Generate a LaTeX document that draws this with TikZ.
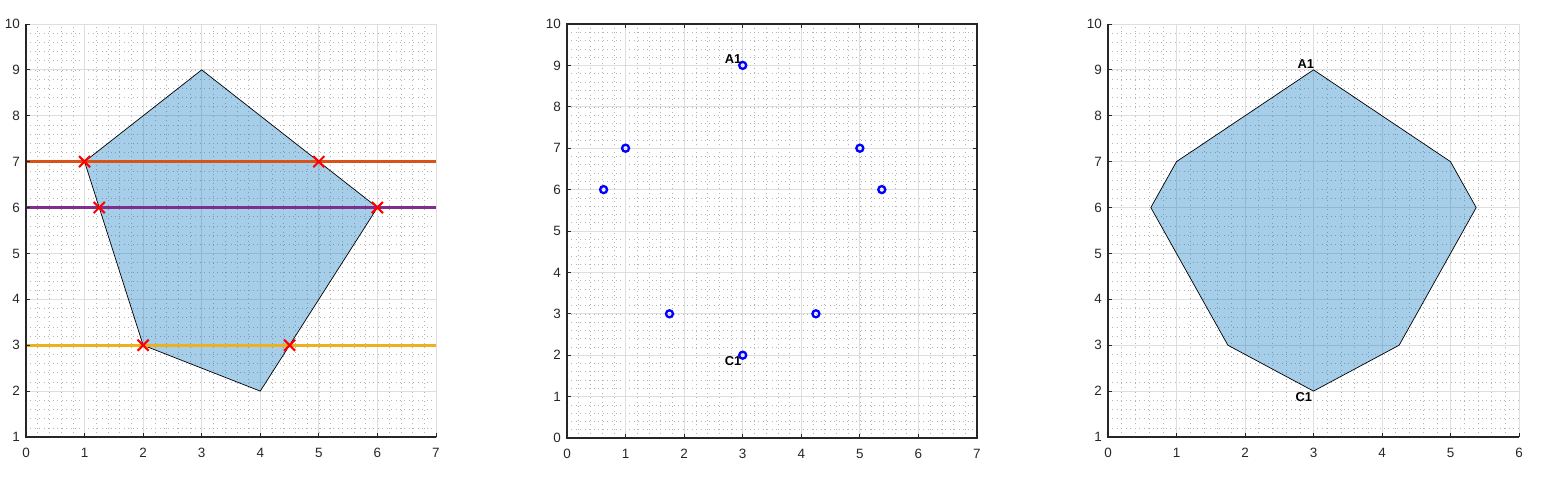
\documentclass[tikz,border=0pt]{standalone}
\usepackage{fontspec}
\setmainfont{Liberation Sans}
\usepackage{xcolor}
\usetikzlibrary{shapes.misc}

\definecolor{axisgray}{RGB}{38,38,38}
\definecolor{gridgray}{RGB}{222,222,222}
\definecolor{minorgray}{RGB}{180,180,180}
\definecolor{patchblue}{RGB}{0,114,189}
\definecolor{lineorange}{RGB}{217,83,25}
\definecolor{linepurple}{RGB}{126,47,142}
\definecolor{lineyellow}{RGB}{237,177,32}

\begin{document}
\begin{tikzpicture}[
    font=\fontsize{11.5}{13}\selectfont,
    majorgrid/.style={draw=gridgray, line width=0.7pt},
    minorgrid/.style={draw=minorgray, line width=0.5pt, dash pattern=on 0.5pt off 3.3pt},
    axisline/.style={draw=axisgray, line width=1pt},
    tickmark/.style={draw=axisgray, line width=0.7pt},
    xlab/.style={text=axisgray, inner sep=0pt, anchor=north},
    ylab/.style={text=axisgray, inner sep=0pt, anchor=east},
    patch/.style={fill=patchblue, fill opacity=0.35, draw=black, line width=0.6pt},
    hline/.style={line width=2.2pt},
    xmark/.style={cross out, draw=red, line width=1.8pt, minimum size=0.27cm, inner sep=0pt},
    ring/.style={circle, draw=blue, line width=2pt, minimum size=0.21cm, inner sep=0pt},
    tag/.style={font=\fontsize{11}{13}\selectfont\bfseries, inner sep=1pt}
  ]
  \useasboundingbox (0,0) rectangle (46.26,14.4);

  % left panel: polygon cut by three lines
  \begin{scope}[shift={(0.78cm,-0.0867cm)}, x=1.757cm, y=1.3767cm]
    \foreach \i in {0,...,35} \draw[minorgrid] ({\i/5},1) -- ({\i/5},10);
    \foreach \j in {5,...,50} \draw[minorgrid] (0,{\j/5}) -- (7,{\j/5});
    \foreach \i in {0,...,7} \draw[majorgrid] (\i,1) -- (\i,10);
    \foreach \j in {1,...,10} \draw[majorgrid] (0,\j) -- (7,\j);

    \filldraw[patch] (1,7) -- (3,9) -- (6,6) -- (4,2) -- (2,3) -- cycle;

    \coordinate (h7w) at (0,7);  \coordinate (h7e) at (7,7);
    \coordinate (h6w) at (0,6);  \coordinate (h6e) at (7,6);
    \coordinate (h3w) at (0,3);  \coordinate (h3e) at (7,3);
    \draw[hline, lineorange] (h7w) -- (h7e);
    \draw[hline, linepurple] (h6w) -- (h6e);
    \draw[hline, lineyellow] (h3w) -- (h3e);

    \foreach \p/\q [count=\k] in {1/7, 5/7, 1.25/6, 6/6, 2/3, 4.5/3}
      \node[xmark] (cut\k) at (\p,\q) {};

    \draw[axisline] (0,10) -- (0,1) -- (7,1);
    \foreach \i in {0,...,7} {
      \draw[tickmark] (\i,1) -- ++(0,0.12cm);
      \node[xlab] (ax\i) at ([yshift=-0.32cm]\i,1) {\i};
    }
    \foreach \j in {1,...,10} {
      \draw[tickmark] (0,\j) -- ++(0.12cm,0);
      \node[ylab] (ay\j) at ([xshift=-0.18cm]0,\j) {\j};
    }
  \end{scope}

  % middle panel: the eight points
  \begin{scope}[shift={(17.01cm,1.26cm)}, x=1.757cm, y=1.242cm]
    \foreach \i in {0,...,35} \draw[minorgrid] ({\i/5},0) -- ({\i/5},10);
    \foreach \j in {0,...,50} \draw[minorgrid] (0,{\j/5}) -- (7,{\j/5});
    \foreach \i in {0,...,7} \draw[majorgrid] (\i,0) -- (\i,10);
    \foreach \j in {0,...,10} \draw[majorgrid] (0,\j) -- (7,\j);

    \foreach \p/\q/\n in {3/9/A1, 1/7/pb, 0.625/6/pc, 1.75/3/pd,
                          3/2/C1, 4.25/3/pf, 5.375/6/pg, 5/7/ph}
      \node[ring] (\n) at (\p,\q) {};
    \node[tag, anchor=south east] (tA1) at (A1.center) {A1};
    \node[tag, anchor=north east] (tC1) at (C1.center) {C1};

    \draw[axisline] (0,0) rectangle (7,10);
    \foreach \i in {0,...,7} {
      \draw[tickmark] (\i,0) -- ++(0,0.12cm);
      \draw[tickmark] (\i,10) -- ++(0,-0.12cm);
      \node[xlab] (bx\i) at ([yshift=-0.32cm]\i,0) {\i};
    }
    \foreach \j in {0,...,10} {
      \draw[tickmark] (0,\j) -- ++(0.12cm,0);
      \draw[tickmark] (7,\j) -- ++(-0.12cm,0);
      \node[ylab] (by\j) at ([xshift=-0.18cm]0,\j) {\j};
    }
  \end{scope}

  % right panel: the octagon
  \begin{scope}[shift={(33.24cm,-0.0867cm)}, x=2.055cm, y=1.3767cm]
    \foreach \i in {0,...,30} \draw[minorgrid] ({\i/5},1) -- ({\i/5},10);
    \foreach \j in {5,...,50} \draw[minorgrid] (0,{\j/5}) -- (6,{\j/5});
    \foreach \i in {0,...,6} \draw[majorgrid] (\i,1) -- (\i,10);
    \foreach \j in {1,...,10} \draw[majorgrid] (0,\j) -- (6,\j);

    \filldraw[patch] (3,9) -- (5,7) -- (5.375,6) -- (4.25,3) -- (3,2)
      -- (1.75,3) -- (0.625,6) -- (1,7) -- cycle;
    \coordinate (vA1) at (3,9);
    \coordinate (vC1) at (3,2);
    \node[tag, anchor=south east] (oA1) at ([xshift=0.06cm]vA1) {A1};
    \node[tag, anchor=north east] (oC1) at (vC1) {C1};

    \draw[axisline] (0,10) -- (0,1) -- (6,1);
    \foreach \i in {0,...,6} {
      \draw[tickmark] (\i,1) -- ++(0,0.12cm);
      \node[xlab] (cx\i) at ([yshift=-0.32cm]\i,1) {\i};
    }
    \foreach \j in {1,...,10} {
      \draw[tickmark] (0,\j) -- ++(0.12cm,0);
      \node[ylab] (cy\j) at ([xshift=-0.18cm]0,\j) {\j};
    }
  \end{scope}
\end{tikzpicture}
\end{document}
